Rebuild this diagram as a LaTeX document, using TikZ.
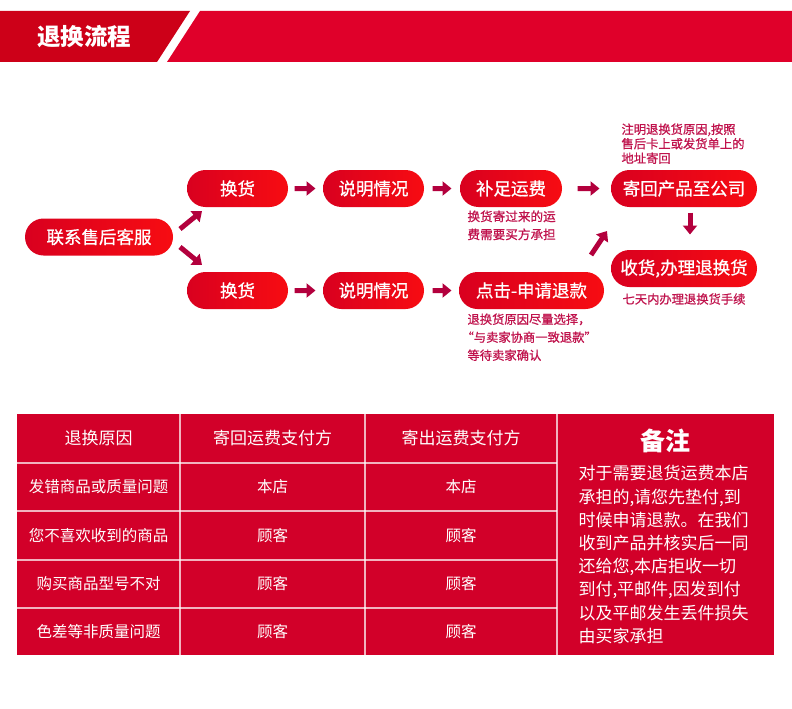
\documentclass[tikz,border=0pt]{standalone}
\usepackage{fontspec}
\setmainfont{Noto Sans CJK SC}
\newfontfamily\cjkmed[FakeBold=0.8]{Noto Sans CJK SC}
\usetikzlibrary{arrows.meta, shapes.misc, calc}
\definecolor{chdark}{HTML}{CD0018}
\definecolor{chred}{HTML}{E0002A}
\definecolor{cpillL}{HTML}{D9001F}
\definecolor{cpillM}{HTML}{C4001F}
\definecolor{cpillR}{HTML}{F70C12}
\definecolor{carrow}{HTML}{B3003D}
\definecolor{cnote}{HTML}{C0124C}
\definecolor{ctable}{HTML}{D20029}
\tikzset{
  every picture/.style={line width=1pt},
  pill/.style={rounded rectangle, minimum height=37pt, minimum width=#1, inner sep=0pt,
    left color=cpillL, middle color=cpillM, right color=cpillR, text=white,
    font=\cjkmed\fontsize{17.5}{20}\selectfont},
  pill/.default=101pt,
  arrow/.style={-{Triangle[length=9pt, width=14pt]}, draw=carrow, line width=5pt},
  note/.style={text=cnote, align=left, inner sep=0pt, anchor=north west,
    font=\cjkmed\fontsize{12.3}{18}\selectfont},
  cell/.style={text=white, inner sep=0pt, font=\fontsize{15.5}{18}\selectfont},
  headcell/.style={text=white, inner sep=0pt, font=\fontsize{17}{20}\selectfont},
  grid/.style={draw=white, draw opacity=0.7, line width=1.2pt},
}

\begin{document}
\begin{tikzpicture}[x=1pt, y=-1pt]
  \useasboundingbox[fill=white] (0,0) rectangle (792,709);
  % header band
  \fill[chdark] (0,11) -- (190,11) -- (157,62) -- (0,62) -- cycle;
  \fill[chred] (200,11) -- (792,11) -- (792,62) -- (167,62) -- cycle;
  \node[text=white, font=\fontsize{23.5}{26}\selectfont\bfseries] (ttl) at (84,37) {退换流程};

  % flow
  \node[pill=148pt] (kf) at (99,237) {联系售后客服};
  \node[pill] (hh1) at (237.5,188.5) {换货};
  \node[pill] (sm1) at (373.5,188.5) {说明情况};
  \node[pill=102pt] (bz) at (511,188.5) {补足运费};
  \node[pill=146pt] (hg) at (684,188.5) {寄回产品至公司};
  \node[pill] (hh2) at (237.5,290.5) {换货};
  \node[pill] (sm2) at (373.5,290.5) {说明情况};
  \node[pill=145pt] (dj) at (531.5,290.5) {点击-申请退款};
  \node[pill=146pt] (sh) at (684,268.5) {收货,办理退换货};

  \coordinate (d1s) at (180,229); \coordinate (d1e) at (202,211);
  \coordinate (d2s) at (180,247); \coordinate (d2e) at (202,265);
  \coordinate (d3s) at (591,255); \coordinate (d3e) at (607,231);
  \draw[arrow] (d1s) -- (d1e);
  \draw[arrow] (d2s) -- (d2e);
  \draw[arrow] (d3s) -- (d3e);
  \draw[arrow, shorten <=6pt, shorten >=7pt] (hh1) -- (sm1);
  \draw[arrow, shorten <=8pt, shorten >=8pt] (sm1) -- (bz);
  \draw[arrow, shorten <=15pt, shorten >=11pt] (bz) -- (hg);
  \draw[arrow, shorten <=6pt, shorten >=7pt] (hh2) -- (sm2);
  \draw[arrow, shorten <=8pt, shorten >=7pt] (sm2) -- (dj);
  \draw[arrow, shorten <=5pt, shorten >=15pt] ([xshift=6pt]hg.south) -- ([xshift=6pt]sh.north);

  \node[note, font=\cjkmed\fontsize{12.3}{14.5}\selectfont] (nt1) at (621,123) {注明退换货原因,按照\\售后卡上或发货单上的\\地址寄回};
  \node[note, font=\cjkmed\fontsize{12.6}{18}\selectfont] (nt2) at (467,210) {换货寄过来的运\\费需要买方承担};
  \node[note] (nt3) at (467,313) {退换货原因尽量选择，\\\kern-6pt“与卖家协商一致退款”\\等待卖家确认};
  \node[text=cnote, font=\cjkmed\fontsize{12.3}{14}\selectfont] (nt4) at (684,299) {七天内办理退换货手续};

  % table
  \fill[ctable] (17,414) rectangle (774,655);
  \foreach \y in {463,511,560,608}
    \draw[grid] (17,\y) -- (557,\y);
  \foreach \x in {180,365,557}
    \draw[grid] (\x,414) -- (\x,655);
  \node[headcell] (th1) at (98.5,438) {退换原因};
  \node[headcell] (th2) at (272.5,438) {寄回运费支付方};
  \node[headcell] (th3) at (461,438) {寄出运费支付方};
  \foreach \y/\r/\a/\b in {487/发错商品或质量问题/本店/本店, 535.5/您不喜欢收到的商品/顾客/顾客,
      584/购买商品型号不对/顾客/顾客, 632/色差等非质量问题/顾客/顾客} {
    \node[cell] at (98.5,\y) {\r};
    \node[cell] at (272.5,\y) {\a};
    \node[cell] at (461,\y) {\b};
  }
  \node[text=white, font=\fontsize{25}{28}\selectfont\bfseries] (bz2) at (665.5,441) {备注};
  \node[text=white, align=left, inner sep=0pt, anchor=north west, font=\fontsize{17}{23.2}\selectfont] (memo) at (578,465)
    {对于需要退货运费本店\\承担的,请您先垫付,到\\时候申请退款。在我们\\收到产品并核实后一同\\还给您,本店拒收一切\\到付,平邮件,因发到付\\以及平邮发生丢件损失\\由买家承担};
\end{tikzpicture}
\end{document}
